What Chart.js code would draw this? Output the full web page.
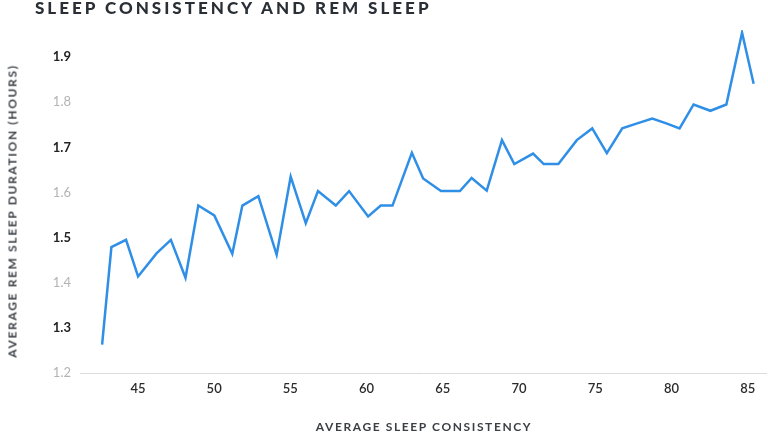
<!DOCTYPE html>
<html>
<head>
<meta charset="utf-8">
<script src="https://cdn.jsdelivr.net/npm/chart.js@4.4.1/dist/chart.umd.min.js"></script>
<style>
  html, body { margin: 0; padding: 0; background: #fff; }
  #wrap { position: relative; width: 768px; height: 434px; overflow: hidden; font-family: Lato, "Open Sans", sans-serif; }
  #chart { position: absolute; left: 0; top: 0; }
  .title { position: absolute; left: 35px; top: -3px; font-size: 17px; font-weight: 900; color: #2a2f36; letter-spacing: 3px; white-space: nowrap; }
  .x-title { position: absolute; left: 0; width: 848px; top: 419px; text-align: center; font-size: 12px; font-weight: 700; color: #3a3f45; letter-spacing: 1.6px; white-space: nowrap; }
  .y-title { position: absolute; left: 12px; top: 211px; transform: translate(-50%, -50%) rotate(-90deg); font-size: 12px; font-weight: 700; color: #3a3f45; letter-spacing: 1.65px; white-space: nowrap; }
</style>
</head>
<body>
<div id="wrap">
  <canvas id="chart" width="768" height="434"></canvas>
  <div class="title">SLEEP CONSISTENCY AND REM SLEEP</div>
  <div class="y-title">AVERAGE REM SLEEP DURATION (HOURS)</div>
  <div class="x-title">AVERAGE SLEEP CONSISTENCY</div>
</div>
<script>
// Sleep consistency (x) vs average REM sleep duration in hours (y)
const consistency = [42.65, 43.26, 44.22, 45.01, 46.22, 47.16, 48.12, 48.96, 50.01, 51.19,
    51.85, 52.90, 54.10, 55.02, 56.01, 56.81, 57.98, 58.85, 60.10, 60.93,
    61.70, 62.97, 63.71, 64.88, 66.12, 66.89, 67.88, 68.88, 69.69, 70.92,
    71.62, 72.58, 73.79, 74.80, 75.76, 76.77, 77.75, 78.74, 79.66, 80.53,
    81.45, 82.55, 83.60, 84.63, 85.39];
const remHours = [1.263, 1.479, 1.495, 1.414, 1.465, 1.495, 1.411, 1.571, 1.549, 1.464,
    1.571, 1.592, 1.462, 1.635, 1.532, 1.603, 1.571, 1.603, 1.547, 1.571,
    1.571, 1.688, 1.631, 1.603, 1.603, 1.632, 1.604, 1.716, 1.663, 1.686,
    1.663, 1.663, 1.716, 1.742, 1.687, 1.742, 1.753, 1.764, 1.753, 1.742,
    1.795, 1.781, 1.795, 1.954, 1.841];
const xTicks = [45, 50, 55, 60, 65, 70, 75, 80, 85];
const yTicks = [1.2, 1.3, 1.4, 1.5, 1.6, 1.7, 1.8, 1.9];

const points = consistency.map((x, i) => ({ x: x, y: remHours[i] }));

// darker labels on odd tenths (1.3, 1.5 ...), faded on even ones
const isDarkTick = ctx => ctx.tick ? Math.round(ctx.tick.value * 10) % 2 === 1 : true;

new Chart(document.getElementById('chart'), {
    type: 'line',
    data: {
        datasets: [{
            data: points,
            borderColor: '#2f8fe6',
            borderWidth: 2.5,
            pointRadius: 0,
            tension: 0,
            fill: false
        }]
    },
    options: {
        responsive: false,
        animation: false,
        layout: { padding: { top: 30, right: 2, left: 0, bottom: 0 } },
        plugins: {
            legend: { display: false },
            tooltip: { enabled: false }
        },
        scales: {
            x: {
                type: 'linear',
                min: 41.2,
                max: 86.2,
                afterBuildTicks: scale => { scale.ticks = xTicks.map(v => ({ value: v })); },
                afterFit: scale => { scale.height = 61; },
                grid: { display: false, drawTicks: false },
                border: { display: true, color: '#dcdcdc', width: 1 },
                ticks: {
                    padding: 8,
                    color: '#2b2b2b',
                    font: { family: 'Lato', size: 13, weight: '600' },
                    maxRotation: 0
                }
            },
            y: {
                min: 1.2,
                max: 1.96,
                afterBuildTicks: scale => { scale.ticks = yTicks.map(v => ({ value: v })); },
                afterFit: scale => { scale.width = 80; },
                grid: { display: false, drawTicks: false },
                border: { display: false },
                ticks: {
                    padding: 9,
                    callback: v => v.toFixed(1),
                    color: ctx => isDarkTick(ctx) ? '#222' : '#b3b3b3',
                    font: ctx => ({ family: 'Lato', size: 13, weight: isDarkTick(ctx) ? '700' : '400' })
                }
            }
        }
    }
});
</script>
</body>
</html>
